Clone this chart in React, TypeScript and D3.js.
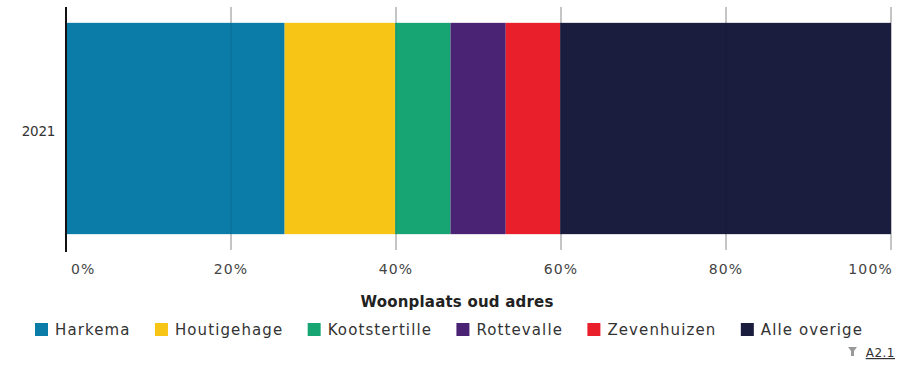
import React, { useEffect, useRef } from "react";
import * as d3 from "d3";

const categories = ["2021"];
const seriesNames = ["Harkema", "Houtigehage", "Kootstertille", "Rottevalle", "Zevenhuizen", "Alle overige"];
const seriesValues = [26.5, 13.4, 6.7, 6.7, 6.6, 40.1];
const seriesColors = ["#0b7ba8", "#f6c515", "#17a673", "#4b2374", "#e9202b", "#1b1d3f"];
const tickValues = [0, 20, 40, 60, 80, 100];
const legendTitle = "Woonplaats oud adres";
const footnote = "A2.1";

const W = 899, H = 369;
const FONT = "'DejaVu Sans', sans-serif";

export default function App() {
  const ref = useRef<SVGSVGElement | null>(null);
  useEffect(() => {
    const svg = d3.select(ref.current);
    svg.selectAll("*").remove();
    const x = d3.scaleLinear().domain([0, 100]).range([66, 891]);
    const y = d3.scaleBand().domain(categories).range([7, 250]).paddingInner(0).paddingOuter(0.075);

    // gridlines
    svg.append("g").selectAll("line").data(tickValues.slice(1)).join("line")
      .attr("x1", d => x(d)).attr("x2", d => x(d)).attr("y1", 7).attr("y2", 250)
      .attr("stroke", "#8a8a8a").attr("stroke-width", 1);

    // stacked bars
    let acc = 0;
    const segs = seriesValues.map((v, i) => { const s = { x0: acc, x1: acc + v, i }; acc += v; return s; });
    categories.forEach(cat => {
      svg.append("g").selectAll("rect").data(segs).join("rect")
        .attr("x", d => x(d.x0)).attr("width", d => x(d.x1) - x(d.x0))
        .attr("y", y(cat)!).attr("height", y.bandwidth())
        .attr("fill", d => seriesColors[d.i]);
      svg.append("text").attr("x", 55).attr("y", y(cat)! + y.bandwidth() / 2 + 7)
        .attr("text-anchor", "end").attr("font-family", FONT).attr("font-size", 13.5)
        .attr("letter-spacing", -0.3).attr("fill", "#333").text(cat);
    });
    // faint gridlines over bars
    svg.append("g").selectAll("line").data(tickValues.slice(1, -1)).join("line")
      .attr("x1", d => x(d)).attr("x2", d => x(d)).attr("y1", y(categories[0])!).attr("y2", y(categories[0])! + y.bandwidth())
      .attr("stroke", "#000").attr("stroke-opacity", 0.12).attr("stroke-width", 1);

    // axis line
    svg.append("line").attr("x1", x(0)).attr("x2", x(0)).attr("y1", 7).attr("y2", 252)
      .attr("stroke", "#111").attr("stroke-width", 2);

    // tick labels
    svg.append("g").selectAll("text").data(tickValues).join("text")
      .attr("x", (d, i) => i === 0 ? x(d) + 5 : i === tickValues.length - 1 ? x(d) + 2 : x(d))
      .attr("y", 274)
      .attr("text-anchor", (d, i) => i === 0 ? "start" : i === tickValues.length - 1 ? "end" : "middle")
      .attr("font-family", FONT).attr("font-size", 14).attr("letter-spacing", 1.2).attr("fill", "#444")
      .text(d => d + "%");

    // legend title
    svg.append("text").attr("x", 457).attr("y", 307).attr("text-anchor", "middle")
      .attr("font-family", FONT).attr("font-size", 15).attr("font-weight", "bold").attr("fill", "#222")
      .attr("letter-spacing", 0.2)
      .text(legendTitle);

    // legend items, spread over the measured span
    const lg = svg.append("g").attr("transform", "translate(35,335)");
    const box = 13, boxGap = 7;
    const widths: number[] = [];
    const groups = seriesNames.map((name, i) => {
      const g = lg.append("g");
      g.append("rect").attr("x", 0).attr("y", -12).attr("width", box).attr("height", box)
        .attr("fill", seriesColors[i]);
      const t = g.append("text").attr("x", box + boxGap).attr("y", 0)
        .attr("font-family", FONT).attr("font-size", 15).attr("letter-spacing", 1.1)
        .attr("fill", "#333").text(name);
      widths.push(box + boxGap + (t.node() as SVGTextElement).getComputedTextLength());
      return g;
    });
    const span = 863 - 35;
    const gap = (span - d3.sum(widths)) / (seriesNames.length - 1);
    let cx = 0;
    groups.forEach((g, i) => { g.attr("transform", `translate(${cx},0)`); cx += widths[i] + gap; });

    // footnote
    const fx = 895;
    svg.append("text").attr("x", fx).attr("y", 357).attr("text-anchor", "end")
      .attr("font-family", FONT).attr("font-size", 12).attr("letter-spacing", 0.5).attr("fill", "#333")
      .attr("text-decoration", "underline").text(footnote);
    svg.append("path").attr("d", `M${fx - 47},347 L${fx - 38},347 L${fx - 41},351 L${fx - 41},356 L${fx - 44},356 L${fx - 44},351 Z`)
      .attr("fill", "#999");
  }, []);
  return (
    <svg ref={ref} width={W} height={H} style={{ position: "absolute", left: 0, top: 0, background: "#fff" }} />
  );
}
